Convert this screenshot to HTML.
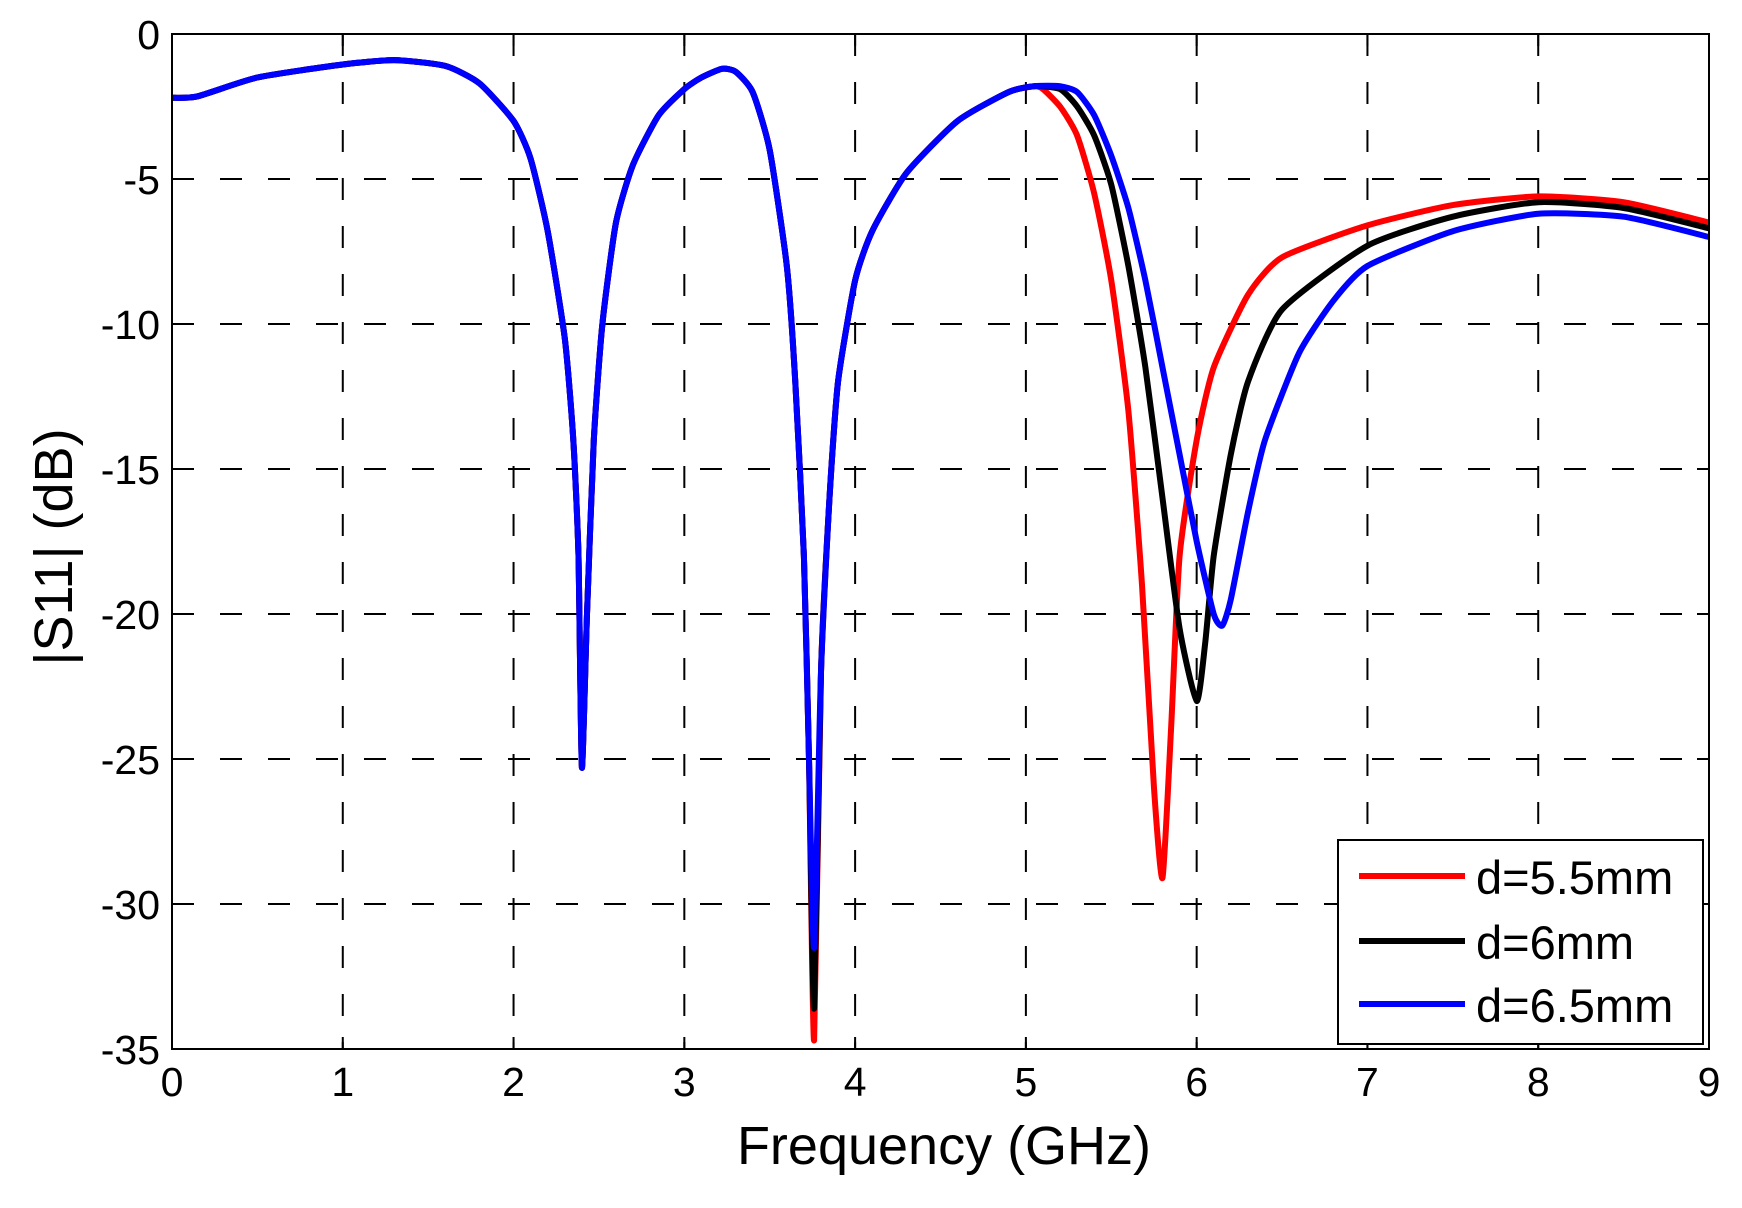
<!DOCTYPE html>
<html><head><meta charset="utf-8"><style>
html,body{margin:0;padding:0;background:#fff;}
svg text{font-family:"Liberation Sans",Arial,sans-serif;fill:#000;}
</style></head><body>
<svg id="s" width="1742" height="1203" xmlns="http://www.w3.org/2000/svg">
<rect width="1742" height="1203" fill="#fff"/>
<g id="grid" stroke="#000" stroke-width="2" stroke-dasharray="22,26" fill="none"></g>
<g id="curves" fill="none" stroke-width="6" stroke-linejoin="round"></g>
<rect x="172" y="34" width="1537" height="1015" fill="none" stroke="#000" stroke-width="2"/>
<g id="ticks" stroke="#000" stroke-width="2"></g>
<g id="labels" font-size="41"></g>
<text x="944" y="1164" font-size="54" text-anchor="middle">Frequency (GHz)</text>
<text transform="translate(72,547) rotate(-90)" font-size="54" text-anchor="middle">|S11| (dB)</text>
<rect x="1338" y="840" width="365" height="204" fill="#fff" stroke="#000" stroke-width="2"/>
<line x1="1359" y1="876" x2="1465" y2="876" stroke="#ff0000" stroke-width="6"/>
<line x1="1359" y1="941" x2="1465" y2="941" stroke="#000" stroke-width="6"/>
<line x1="1359" y1="1004" x2="1465" y2="1004" stroke="#0000ff" stroke-width="6"/>
<text x="1476" y="894" font-size="47">d=5.5mm</text>
<text x="1476" y="959" font-size="47">d=6mm</text>
<text x="1476" y="1022" font-size="47">d=6.5mm</text>
</svg>
<script>
var L=172,R=1709,T=34,B=1049;
function X(f){return L+f*(R-L)/9;}
function Y(d){return T-d*(B-T)/35;}
var NS="http://www.w3.org/2000/svg";
function el(p,t,a,txt){var e=document.createElementNS(NS,t);for(var k in a)e.setAttribute(k,a[k]);if(txt!==undefined)e.textContent=txt;document.getElementById(p).appendChild(e);}
for(var i=1;i<9;i++)el("grid","line",{x1:X(i),y1:T,x2:X(i),y2:B});
for(var j=1;j<7;j++)el("grid","line",{x1:L,y1:Y(-5*j),x2:R,y2:Y(-5*j)});
for(var i=0;i<=9;i++){el("ticks","line",{x1:X(i),y1:B,x2:X(i),y2:B-12});el("ticks","line",{x1:X(i),y1:T,x2:X(i),y2:T+12});
 el("labels","text",{x:X(i),y:1096,"text-anchor":"middle"},String(i));}
for(var j=0;j<=7;j++){el("ticks","line",{x1:L,y1:Y(-5*j),x2:L+12,y2:Y(-5*j)});el("ticks","line",{x1:R,y1:Y(-5*j),x2:R-12,y2:Y(-5*j)});
 el("labels","text",{x:160,y:Y(-5*j)+15,"text-anchor":"end"},j==0?"0":"-"+(5*j));}
var common=[[0,-2.2],[0.15,-2.15],[0.5,-1.5],[1,-1.05],[1.3,-0.9],[1.6,-1.1],[1.8,-1.7],[2.0,-3.0],[2.1,-4.3],[2.2,-6.8],[2.3,-10.5],[2.35,-14],[2.38,-18],[2.4,-25.3],[2.43,-20],[2.47,-14],[2.52,-10],[2.6,-6.5],[2.7,-4.5],[2.85,-2.8],[3.0,-1.9],[3.1,-1.5],[3.22,-1.2],[3.3,-1.3],[3.4,-2.0],[3.5,-4],[3.6,-8],[3.65,-12],[3.7,-18],[3.73,-25]];
var after=[[3.8,-22],[3.85,-16],[3.9,-12],[4.0,-8.5],[4.1,-6.8],[4.3,-4.8],[4.6,-3],[4.9,-2],[5.05,-1.8]];
var red=common.concat([[3.76,-34.7]],after,[[5.1,-1.9],[5.2,-2.5],[5.3,-3.5],[5.4,-5.5],[5.5,-8.5],[5.6,-13],[5.68,-19],[5.75,-26],[5.8,-29.1],[5.85,-24],[5.9,-18],[6.0,-14],[6.1,-11.5],[6.3,-9],[6.5,-7.7],[7.0,-6.6],[7.5,-5.9],[8,-5.6],[8.5,-5.8],[9,-6.5]]);
var blk=common.concat([[3.76,-33.6]],after,[[5.2,-1.9],[5.3,-2.5],[5.4,-3.5],[5.5,-5.2],[5.6,-8],[5.7,-11.5],[5.8,-16],[5.9,-20.5],[6.0,-23],[6.05,-21],[6.1,-18],[6.2,-14.5],[6.3,-12],[6.5,-9.5],[7.0,-7.3],[7.5,-6.3],[8,-5.8],[8.5,-6],[9,-6.7]]);
var blu=common.concat([[3.76,-31.5]],after,[[5.2,-1.8],[5.3,-2.0],[5.4,-2.8],[5.5,-4.2],[5.6,-6],[5.7,-8.5],[5.8,-11.5],[5.9,-14.5],[6.0,-17.5],[6.1,-20],[6.15,-20.4],[6.2,-19.5],[6.3,-16.5],[6.4,-14],[6.6,-11],[6.8,-9.2],[7.0,-8],[7.5,-6.8],[8,-6.2],[8.5,-6.3],[9,-7.0]]);
function path(a){
 var p=a.map(function(q){return [X(q[0]),Y(q[1])];});
 var d="M"+p[0][0].toFixed(1)+","+p[0][1].toFixed(1);
 for(var i=0;i<p.length-1;i++){
  var p0=p[Math.max(0,i-1)],p1=p[i],p2=p[i+1],p3=p[Math.min(p.length-1,i+2)];
  var k=1/6*0.6;
  var c1=[p1[0]+(p2[0]-p0[0])*k,p1[1]+(p2[1]-p0[1])*k];
  var c2=[p2[0]-(p3[0]-p1[0])*k,p2[1]-(p3[1]-p1[1])*k];
  d+=" C"+c1[0].toFixed(1)+","+c1[1].toFixed(1)+" "+c2[0].toFixed(1)+","+c2[1].toFixed(1)+" "+p2[0].toFixed(1)+","+p2[1].toFixed(1);
 }
 return d;}
el("curves","path",{d:path(red),stroke:"#ff0000"});
el("curves","path",{d:path(blk),stroke:"#000000"});
el("curves","path",{d:path(blu),stroke:"#0000ff"});
</script>
</body></html>
